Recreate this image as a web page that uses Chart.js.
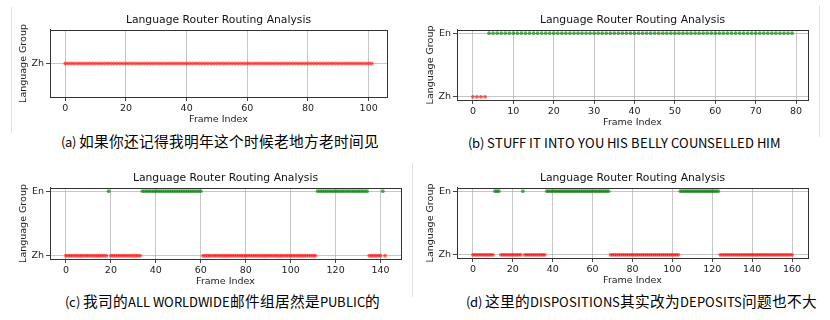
<!DOCTYPE html>
<html>
<head>
<meta charset="utf-8">
<script src="https://cdn.jsdelivr.net/npm/chart.js@4.4.1/dist/chart.umd.min.js"></script>
<style>
  @font-face {
    font-family: "CapLatin";
    src: local("Noto Sans CJK SC Regular"), local("NotoSansCJKsc-Regular"), local("Noto Sans CJK SC");
    unicode-range: U+0000-02FF;
  }
  @font-face {
    font-family: "CapCJK";
    src: local("Noto Sans CJK SC Regular"), local("NotoSansCJKsc-Regular"), local("Noto Sans CJK SC");
    size-adjust: 113%;
  }
  body { margin: 0; background: #fff; width: 830px; height: 320px; position: relative; overflow: hidden; }
  canvas { position: absolute; }
  .cap { position: absolute; font-family: "CapLatin", "CapCJK", "Noto Sans CJK SC", sans-serif; font-size: 13px; color: #000;
         white-space: nowrap; transform: translate(-50%, -50%); }
  .sep { position: absolute; width: 1px; background: #e2e2e2; }
</style>
</head>
<body>
<div class="sep" style="left:11px;top:7px;height:126px"></div>
<div class="sep" style="left:819px;top:5px;height:132px"></div>
<div class="sep" style="left:412px;top:163px;height:134px"></div>
<div class="cap" id="capA" style="left:220px;top:140px"></div>
<div class="cap" id="capB" style="left:624px;top:142px"></div>
<div class="cap" id="capC" style="left:222px;top:300px"></div>
<div class="cap" id="capD" style="left:641px;top:300px"></div>
<script>
// ==========================
// DATA (0 = Zh, 1 = En, one entry per frame)
// ==========================
const groupLabels = ["Zh", "En"];

const routeA = [
  0,0,0,0,0,0,0,0,0,0,0,0,0,0,0,0,0,0,0,0,
  0,0,0,0,0,0,0,0,0,0,0,0,0,0,0,0,0,0,0,0,
  0,0,0,0,0,0,0,0,0,0,0,0,0,0,0,0,0,0,0,0,
  0,0,0,0,0,0,0,0,0,0,0,0,0,0,0,0,0,0,0,0,
  0,0,0,0,0,0,0,0,0,0,0,0,0,0,0,0,0,0,0,0,
  0,0
];

const routeB = [
  0,0,0,0,1,1,1,1,1,1,1,1,1,1,1,1,1,1,1,1,
  1,1,1,1,1,1,1,1,1,1,1,1,1,1,1,1,1,1,1,1,
  1,1,1,1,1,1,1,1,1,1,1,1,1,1,1,1,1,1,1,1,
  1,1,1,1,1,1,1,1,1,1,1,1,1,1,1,1,1,1,1,1
];

const routeC = [
  0,0,0,0,0,0,0,0,0,0,0,0,0,0,0,0,0,0,0,1,
  0,0,0,0,0,0,0,0,0,0,0,0,0,0,1,1,1,1,1,1,
  1,1,1,1,1,1,1,1,1,1,1,1,1,1,1,1,1,1,1,1,
  1,0,0,0,0,0,0,0,0,0,0,0,0,0,0,0,0,0,0,0,
  0,0,0,0,0,0,0,0,0,0,0,0,0,0,0,0,0,0,0,0,
  0,0,0,0,0,0,0,0,0,0,0,0,1,1,1,1,1,1,1,1,
  1,1,1,1,1,1,1,1,1,1,1,1,1,1,1,0,0,0,0,0,
  0,1,0
];

const routeD = [
  0,0,0,0,0,0,0,0,0,0,0,1,1,1,0,0,0,0,0,0,
  0,0,0,0,0,1,0,0,0,0,0,0,0,0,0,0,0,1,1,1,
  1,1,1,1,1,1,1,1,1,1,1,1,1,1,1,1,1,1,1,1,
  1,1,1,1,1,1,1,1,1,0,0,0,0,0,0,0,0,0,0,0,
  0,0,0,0,0,0,0,0,0,0,0,0,0,0,0,0,0,0,0,0,
  0,0,0,0,1,1,1,1,1,1,1,1,1,1,1,1,1,1,1,1,
  1,1,1,1,0,0,0,0,0,0,0,0,0,0,0,0,0,0,0,0,
  0,0,0,0,0,0,0,0,0,0,0,0,0,0,0,0,0,0,0,0,
  0
];

const xTicksA = [0, 20, 40, 60, 80, 100];
const xTicksB = [0, 10, 20, 30, 40, 50, 60, 70, 80];
const xTicksC = [0, 20, 40, 60, 80, 100, 120, 140];
const xTicksD = [0, 20, 40, 60, 80, 100, 120, 140, 160];

const titleText = "Language Router Routing Analysis";
const xTitle = "Frame Index";
const yTitle = "Language Group";

const captions = [
  "(a) 如果你还记得我明年这个时候老地方老时间见",
  "(b) STUFF IT INTO YOU HIS BELLY COUNSELLED HIM",
  "(c) 我司的ALL WORLDWIDE邮件组居然是PUBLIC的",
  "(d) 这里的DISPOSITIONS其实改为DEPOSITS问题也不大"
];

// ==========================
// PANELS
// ==========================
const panels = [
  { route: routeA, xTicks: xTicksA, xMin: -5.05, xMax: 106.05, yTicks: [0], yMin: -1, yMax: 1,
    area: { l: 50, r: 387, t: 30, b: 97 } },
  { route: routeB, xTicks: xTicksB, xMin: -3.95, xMax: 82.95, yTicks: [0, 1], yMin: -0.05, yMax: 1.05,
    area: { l: 457, r: 808, t: 30, b: 100 } },
  { route: routeC, xTicks: xTicksC, xMin: -7.1, xMax: 149.1, yTicks: [0, 1], yMin: -0.05, yMax: 1.05,
    area: { l: 50, r: 401, t: 188, b: 259 } },
  { route: routeD, xTicks: xTicksD, xMin: -8, xMax: 168, yTicks: [0, 1], yMin: -0.05, yMax: 1.05,
    area: { l: 457, r: 808, t: 188, b: 258 } }
];

["capA", "capB", "capC", "capD"].forEach((id, i) => {
  document.getElementById(id).textContent = captions[i];
});

const AXIS_W = 42;   // room for y labels + title
const TOP_H = 24;    // room for title
const BOT_H = 30;    // room for x labels + title
const RIGHT_PAD = 22;

const FONT = "'DejaVu Sans', sans-serif";
const GRID = "rgba(176,176,176,0.8)";
const SPINE = "#333";

// spines on all four sides like matplotlib
const framePlugin = {
  id: "frame",
  afterDatasetsDraw(chart) {
    const { ctx, chartArea: a } = chart;
    ctx.save();
    ctx.strokeStyle = SPINE;
    ctx.lineWidth = 1;
    ctx.strokeRect(Math.round(a.left) + 0.5, Math.round(a.top) + 0.5,
      Math.round(a.right - a.left), Math.round(a.bottom - a.top));
    ctx.restore();
  }
};

function drawPanels() {
  panels.forEach(p => {
    const cv = document.createElement("canvas");
    const W = p.area.r - p.area.l + AXIS_W + RIGHT_PAD;
    const H = p.area.b - p.area.t + TOP_H + BOT_H;
    cv.width = W;
    cv.height = H;
    cv.style.width = W + "px";
    cv.style.height = H + "px";
    cv.style.left = (p.area.l - AXIS_W) + "px";
    cv.style.top = (p.area.t - TOP_H) + "px";
    document.body.appendChild(cv);

    const zh = [];
    const en = [];
    p.route.forEach((g, i) => (g ? en : zh).push({ x: i, y: g }));

    new Chart(cv, {
      type: "scatter",
      data: {
        datasets: [
          { data: zh, backgroundColor: "rgba(255,0,0,0.6)", pointRadius: 1.9, borderWidth: 0 },
          { data: en, backgroundColor: "rgba(0,128,0,0.65)", pointRadius: 1.9, borderWidth: 0 }
        ]
      },
      options: {
        responsive: false,
        animation: false,
        events: [],
        layout: { padding: { left: 0, right: RIGHT_PAD, top: 8, bottom: 0 } },
        plugins: {
          legend: { display: false },
          tooltip: { enabled: false },
          title: {
            display: true,
            fullSize: false,
            text: titleText,
            color: "#111",
            font: { family: FONT, size: 10.8, weight: "normal", lineHeight: 1.2 },
            padding: { top: 0, bottom: 3 }
          }
        },
        scales: {
          x: {
            type: "linear",
            min: p.xMin,
            max: p.xMax,
            afterBuildTicks: s => { s.ticks = p.xTicks.map(v => ({ value: v })); },
            afterFit: s => { s.height = BOT_H; },
            grid: { color: GRID, lineWidth: 0.9, tickLength: 4, tickColor: SPINE },
            border: { color: SPINE },
            ticks: { color: "#222", padding: 2, maxRotation: 0, autoSkip: false,
                     font: { family: FONT, size: 9.5 } },
            title: { display: true, text: xTitle, color: "#222", padding: { top: 0, bottom: 1.6 },
                     font: { family: FONT, size: 9.5 } }
          },
          y: {
            type: "linear",
            min: p.yMin,
            max: p.yMax,
            afterBuildTicks: s => { s.ticks = p.yTicks.map(v => ({ value: v })); },
            afterFit: s => { s.width = AXIS_W; },
            grid: { color: GRID, lineWidth: 0.9, tickLength: 4, tickColor: SPINE },
            border: { color: SPINE },
            ticks: { color: "#222", padding: 2, autoSkip: false,
                     callback: v => groupLabels[v],
                     font: { family: FONT, size: 9.5 } },
            title: { display: true, text: yTitle, color: "#222", padding: { top: 10, bottom: 0 },
                     font: { family: FONT, size: 9.5 } }
          }
        }
      },
      plugins: [framePlugin]
    });
  });
}

drawPanels();
</script>
</body>
</html>
